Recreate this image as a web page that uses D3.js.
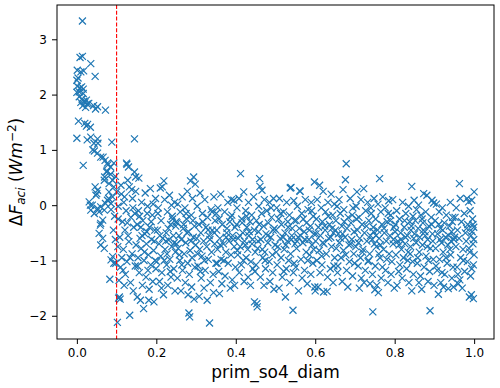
<!DOCTYPE html>
<html>
<head>
<meta charset="utf-8">
<script src="https://cdn.jsdelivr.net/npm/d3@7"></script>
<style>
	body { margin: 0; background: #fff; }
	text { font-family: "DejaVu Sans", sans-serif; fill: #000; }
</style>
</head>
<body>
<div id="chart"></div>
<script>
// prim_so4_diam vs dF_aci in strips of x
var xTicks = [0, 0.2, 0.4, 0.6, 0.8, 1.0];
var yTicks = [-2, -1, 0, 1, 2, 3];
var cutoff = 0.1;

var pts00 = [[0.014,3.33],[0.008,2.67],[0.014,2.69],[0.035,2.56],[0.001,2.44],[0.010,2.41],[0.017,2.43],[0.046,2.33],[0.003,2.30],[0.000,2.26],[0.001,2.15],[0.008,2.12],[0.016,2.10],[0.012,2.14],[0.000,2.04],[0.006,2.05],[0.016,2.02],[0.006,1.96],[0.013,1.92],[0.018,1.88],[0.024,1.90],[0.030,1.84],[0.015,1.80],[0.022,1.77],[0.026,1.83],[0.010,1.86],[0.020,1.85],[0.042,1.80],[0.052,1.78],[0.072,1.72],[0.047,1.74],[0.004,1.52],[0.020,1.48],[0.024,1.43],[0.034,1.41],[0.027,1.46],[0.000,1.21],[0.026,1.18],[0.035,1.23],[0.052,1.20],[0.043,1.12],[0.053,1.12],[0.088,1.14],[0.040,1.00],[0.044,0.98],[0.052,0.94],[0.060,0.87],[0.016,0.72],[0.066,0.87],[0.071,0.81],[0.077,0.76],[0.085,0.69],[0.078,0.73],[0.093,0.76],[0.075,0.60],[0.085,0.56],[0.070,0.51],[0.076,0.62],[0.069,0.45],[0.081,0.39],[0.090,0.45],[0.093,0.33],[0.100,0.24],[0.046,0.33],[0.050,0.21],[0.052,0.27],[0.048,0.18],[0.081,0.24],[0.090,0.15],[0.077,0.09],[0.086,0.03],[0.031,0.06],[0.039,0.00],[0.052,-0.06],[0.060,-0.03],[0.035,-0.09],[0.044,-0.15],[0.056,-0.12],[0.072,0.03],[0.069,-0.09],[0.086,-0.08],[0.034,0.00],[0.065,-0.27],[0.059,-0.36],[0.060,-0.33],[0.056,-0.51],[0.065,-0.60],[0.060,-0.72],[0.069,-0.78],[0.090,-0.93],[0.086,-0.99],[0.098,-1.05],[0.093,-1.05],[0.083,-1.34],[0.095,-0.20],[0.092,-0.45],[0.097,-0.62],[0.080,0.12],[0.097,0.52]];
var pts10 = [[0.106,-1.36],[0.107,-1.66],[0.109,-1.70],[0.105,-1.68],[0.102,-2.12],[0.133,-1.99],[0.110,-1.12],[0.125,0.76],[0.130,0.69],[0.126,0.74],[0.145,1.20],[0.148,0.51],[0.145,0.60],[0.128,0.45],[0.132,0.33],[0.112,0.20],[0.118,0.05],[0.124,-0.10],[0.140,0.12],[0.104,-0.02],[0.115,-0.30],[0.136,-0.22],[0.121,-0.45],[0.143,-0.40],[0.108,-0.58],[0.131,-0.66],[0.117,-0.80],[0.139,-0.88],[0.126,-1.02],[0.113,-0.95],[0.147,-1.10],[0.122,-1.25],[0.135,-1.40],[0.142,-1.55],[0.119,-1.45],[0.104,-0.25],[0.146,-0.15],[0.111,0.36],[0.138,0.28],[0.129,-0.55],[0.149,-0.72],[0.116,-1.18],[0.141,-0.05],[0.103,-0.75],[0.127,-0.32],[0.134,-0.95],[0.148,0.25],[0.120,0.15],
	[0.152,-1.66],[0.160,-1.72],[0.168,-1.87],[0.194,-1.75],[0.181,-1.72],[0.156,0.49],[0.172,0.22],[0.185,0.30],[0.163,0.05],[0.198,0.12],[0.155,-0.10],[0.178,-0.02],[0.190,-0.18],[0.166,-0.28],[0.152,-0.35],[0.183,-0.40],[0.196,-0.45],[0.171,-0.52],[0.159,-0.60],[0.188,-0.62],[0.175,-0.70],[0.162,-0.78],[0.193,-0.82],[0.180,-0.90],[0.154,-0.95],[0.169,-1.00],[0.186,-1.08],[0.199,-1.15],[0.157,-1.22],[0.174,-1.30],[0.191,-1.38],[0.165,-1.45],[0.182,-1.52],[0.161,-0.40],[0.177,-0.15],[0.195,-0.65],[0.170,-0.85],[0.187,-0.30],[0.153,-1.10],[0.164,-0.55],[0.197,-1.00],[0.179,-1.18],[0.158,-0.20],[0.192,0.02],[0.176,-0.48]];
var pts20 = [[0.215,0.33],[0.219,0.44],[0.210,0.31],[0.221,0.10],[0.233,0.18],[0.246,0.05],[0.205,-0.05],[0.228,-0.12],[0.240,-0.20],[0.212,-0.28],[0.236,-0.35],[0.249,-0.38],[0.203,-0.45],[0.225,-0.50],[0.243,-0.55],[0.216,-0.60],[0.231,-0.63],[0.207,-0.70],[0.239,-0.75],[0.222,-0.80],[0.248,-0.85],[0.211,-0.92],[0.234,-0.98],[0.201,-1.02],[0.226,-1.08],[0.244,-1.15],[0.214,-1.22],[0.237,-1.30],[0.208,-1.38],[0.229,-1.45],[0.247,-1.55],[0.218,-1.62],[0.241,-0.25],[0.204,-0.15],[0.230,-0.42],[0.245,-0.68],[0.220,-1.00],[0.235,-1.20],[0.209,-0.55],[0.227,-0.88],[0.250,-0.30],[0.213,-1.50],[0.238,0.00],[0.224,-0.65],
	[0.282,-1.95],[0.284,-2.02],[0.294,0.51],[0.286,0.44],[0.298,0.38],[0.278,0.25],[0.265,0.15],[0.291,0.12],[0.254,0.02],[0.272,-0.05],[0.260,-0.12],[0.288,-0.18],[0.276,-0.25],[0.252,-0.32],[0.296,-0.38],[0.268,-0.42],[0.281,-0.48],[0.257,-0.55],[0.293,-0.58],[0.263,-0.62],[0.274,-0.68],[0.299,-0.72],[0.255,-0.78],[0.285,-0.82],[0.270,-0.88],[0.290,-0.95],[0.259,-1.00],[0.279,-1.05],[0.297,-1.12],[0.266,-1.18],[0.283,-1.25],[0.253,-1.32],[0.273,-1.40],[0.289,-1.48],[0.262,-1.55],[0.280,-1.62],[0.295,-1.70],[0.269,-0.35],[0.287,-0.65],[0.258,-0.90],[0.277,-0.50],[0.292,-0.28],[0.264,-1.08],[0.251,-0.70],[0.275,-0.15]];
var pts30 = [[0.334,-2.13],[0.310,0.22],[0.322,0.10],[0.345,0.15],[0.303,-0.02],[0.338,-0.08],[0.316,-0.15],[0.329,-0.22],[0.348,-0.28],[0.307,-0.35],[0.325,-0.40],[0.341,-0.45],[0.312,-0.50],[0.333,-0.55],[0.302,-0.60],[0.319,-0.65],[0.347,-0.70],[0.327,-0.75],[0.309,-0.80],[0.339,-0.85],[0.315,-0.92],[0.331,-0.98],[0.350,-1.05],[0.305,-1.10],[0.323,-1.18],[0.343,-1.25],[0.313,-1.32],[0.336,-1.40],[0.320,-1.50],[0.344,-1.58],[0.308,-1.65],[0.328,-1.72],[0.317,-0.30],[0.335,-0.62],[0.304,-0.88],[0.346,-0.50],[0.321,-1.00],[0.340,-0.12],[0.311,-1.20],[0.330,-0.45],
	[0.395,0.09],[0.362,0.20],[0.380,0.05],[0.355,-0.05],[0.372,-0.12],[0.390,-0.18],[0.358,-0.25],[0.385,-0.30],[0.366,-0.35],[0.398,-0.40],[0.352,-0.45],[0.377,-0.50],[0.392,-0.55],[0.360,-0.60],[0.383,-0.65],[0.369,-0.70],[0.396,-0.75],[0.354,-0.80],[0.375,-0.85],[0.388,-0.90],[0.363,-0.98],[0.381,-1.05],[0.399,-1.12],[0.357,-1.20],[0.373,-1.28],[0.391,-1.35],[0.365,-1.42],[0.386,-1.50],[0.359,-1.60],[0.378,-0.42],[0.394,-0.62],[0.351,-0.15],[0.370,-1.00],[0.387,-0.22],[0.361,-0.72],[0.397,-1.45],[0.376,-0.58],[0.353,-1.05],[0.389,0.10]];
var pts40 = [[0.412,0.57],[0.420,0.24],[0.408,0.12],[0.432,0.05],[0.445,0.15],[0.403,-0.05],[0.425,-0.10],[0.440,-0.18],[0.415,-0.25],[0.436,-0.30],[0.402,-0.35],[0.428,-0.40],[0.447,-0.45],[0.418,-0.50],[0.433,-0.55],[0.406,-0.60],[0.422,-0.65],[0.441,-0.70],[0.411,-0.75],[0.430,-0.80],[0.449,-0.85],[0.405,-0.90],[0.426,-0.95],[0.438,-1.02],[0.414,-1.08],[0.443,-1.15],[0.409,-1.22],[0.431,-1.30],[0.421,-1.38],[0.447,-1.75],[0.437,-1.45],[0.416,-0.32],[0.442,-0.62],[0.404,-0.82],[0.427,-0.20],[0.419,-1.00],[0.434,-0.48],[0.448,-1.20],[0.410,-0.55],[0.424,-0.72],
	[0.460,0.48],[0.461,0.34],[0.466,0.27],[0.453,-1.78],[0.454,-1.84],[0.472,0.10],[0.485,0.05],[0.458,-0.02],[0.495,0.12],[0.478,-0.10],[0.465,-0.15],[0.490,-0.22],[0.452,-0.28],[0.482,-0.32],[0.470,-0.38],[0.497,-0.42],[0.457,-0.48],[0.476,-0.52],[0.488,-0.58],[0.463,-0.62],[0.481,-0.68],[0.499,-0.72],[0.455,-0.78],[0.473,-0.85],[0.492,-0.90],[0.468,-0.95],[0.484,-1.02],[0.451,-1.08],[0.475,-1.15],[0.493,-1.22],[0.462,-1.30],[0.486,-1.38],[0.471,-1.45],[0.496,-1.52],[0.459,-0.35],[0.480,-0.55],[0.467,-0.80],[0.489,-0.05],[0.474,-1.00],[0.456,-0.65],[0.494,-0.45]];
var pts50 = [[0.537,0.31],[0.539,0.32],[0.525,-1.66],[0.544,-1.90],[0.510,0.12],[0.528,0.05],[0.546,0.08],[0.503,-0.05],[0.520,-0.12],[0.535,-0.18],[0.508,-0.25],[0.548,-0.28],[0.515,-0.35],[0.532,-0.40],[0.501,-0.45],[0.524,-0.50],[0.541,-0.55],[0.512,-0.60],[0.530,-0.65],[0.549,-0.70],[0.506,-0.75],[0.522,-0.80],[0.538,-0.88],[0.514,-0.95],[0.533,-1.00],[0.504,-1.08],[0.527,-1.15],[0.545,-1.22],[0.517,-1.30],[0.536,-1.40],[0.509,-1.50],[0.542,-0.42],[0.519,-0.58],[0.531,-0.30],[0.502,-0.85],[0.547,-1.05],[0.526,-0.72],[0.513,-0.15],[0.540,-0.62],[0.521,-1.20],
	[0.562,0.25],[0.561,0.26],[0.598,0.42],[0.600,-1.55],[0.575,0.10],[0.590,0.05],[0.555,-0.02],[0.582,-0.08],[0.566,-0.15],[0.595,-0.20],[0.552,-0.28],[0.578,-0.32],[0.588,-0.38],[0.560,-0.42],[0.572,-0.48],[0.597,-0.52],[0.557,-0.58],[0.584,-0.62],[0.569,-0.68],[0.592,-0.72],[0.553,-0.78],[0.577,-0.85],[0.586,-0.90],[0.564,-0.98],[0.594,-1.05],[0.551,-1.12],[0.573,-1.18],[0.589,-1.25],[0.567,-1.32],[0.580,-1.42],[0.599,-1.48],[0.558,-1.55],[0.585,-0.45],[0.570,-0.25],[0.596,-0.80],[0.563,-0.55],[0.581,-1.00],[0.554,-0.65],[0.591,-0.10],[0.574,-0.62]];
var pts60 = [[0.611,0.36],[0.620,0.25],[0.621,-1.57],[0.630,-1.56],[0.640,0.20],[0.605,0.10],[0.632,0.05],[0.648,0.02],[0.615,-0.05],[0.626,-0.12],[0.644,-0.18],[0.603,-0.25],[0.618,-0.30],[0.636,-0.35],[0.608,-0.40],[0.625,-0.45],[0.646,-0.50],[0.613,-0.55],[0.634,-0.60],[0.601,-0.65],[0.622,-0.70],[0.641,-0.75],[0.610,-0.82],[0.628,-0.88],[0.649,-0.95],[0.604,-1.00],[0.617,-1.08],[0.638,-1.15],[0.612,-1.22],[0.631,-1.30],[0.645,-1.40],[0.607,-1.48],[0.624,-0.38],[0.639,-0.58],[0.616,-0.92],[0.633,-0.20],[0.602,-0.52],[0.647,-1.10],[0.619,-0.68],[0.642,-0.42],
	[0.678,0.75],[0.676,0.46],[0.670,0.28],[0.660,0.10],[0.688,0.12],[0.655,-0.02],[0.672,-0.08],[0.695,-0.05],[0.663,-0.15],[0.683,-0.22],[0.652,-0.28],[0.690,-0.32],[0.667,-0.38],[0.680,-0.42],[0.698,-0.48],[0.658,-0.52],[0.675,-0.58],[0.692,-0.62],[0.661,-0.68],[0.685,-0.72],[0.653,-0.78],[0.671,-0.82],[0.697,-0.88],[0.665,-0.95],[0.686,-1.02],[0.657,-1.10],[0.679,-1.18],[0.694,-1.28],[0.668,-1.38],[0.682,-1.48],[0.651,-0.45],[0.673,-0.30],[0.689,-0.70],[0.664,-0.60],[0.699,-1.05],[0.677,-0.90],[0.656,-1.22],[0.693,-0.18],[0.669,-0.52]];
var pts70 = [[0.722,0.30],[0.705,0.24],[0.745,-1.93],[0.750,-1.53],[0.715,0.10],[0.732,0.05],[0.748,0.12],[0.703,-0.02],[0.727,-0.10],[0.741,-0.15],[0.710,-0.22],[0.735,-0.28],[0.718,-0.35],[0.746,-0.40],[0.706,-0.45],[0.724,-0.50],[0.739,-0.55],[0.712,-0.60],[0.730,-0.65],[0.749,-0.70],[0.702,-0.75],[0.720,-0.80],[0.737,-0.88],[0.714,-0.95],[0.733,-1.02],[0.708,-1.10],[0.726,-1.18],[0.744,-1.25],[0.716,-1.32],[0.738,-1.42],[0.711,-1.50],[0.729,-0.38],[0.743,-0.62],[0.719,-0.85],[0.704,-0.25],[0.734,-1.00],[0.747,-0.48],[0.723,-1.40],[0.740,-0.05],[0.709,-0.68],
	[0.762,0.48],[0.755,-1.45],[0.770,0.15],[0.785,0.08],[0.758,0.02],[0.795,0.10],[0.776,-0.05],[0.765,-0.12],[0.790,-0.18],[0.752,-0.25],[0.781,-0.30],[0.768,-0.35],[0.798,-0.40],[0.757,-0.45],[0.774,-0.50],[0.788,-0.55],[0.761,-0.60],[0.779,-0.65],[0.796,-0.70],[0.754,-0.75],[0.772,-0.80],[0.786,-0.88],[0.763,-0.95],[0.793,-1.02],[0.751,-1.10],[0.777,-1.18],[0.791,-1.25],[0.766,-1.32],[0.783,-1.40],[0.799,-1.50],[0.759,-1.58],[0.773,-0.42],[0.789,-0.28],[0.764,-0.72],[0.780,-0.98],[0.753,-0.55],[0.797,-0.62],[0.769,-1.12],[0.784,-0.15],[0.760,-0.88]];
var pts80 = [[0.843,0.34],[0.849,0.09],[0.843,-1.55],[0.810,-1.20],[0.820,0.05],[0.835,-0.02],[0.805,-0.10],[0.828,-0.15],[0.846,-0.20],[0.812,-0.25],[0.838,-0.30],[0.802,-0.35],[0.824,-0.40],[0.841,-0.45],[0.815,-0.50],[0.832,-0.55],[0.848,-0.60],[0.808,-0.65],[0.826,-0.70],[0.840,-0.75],[0.817,-0.80],[0.834,-0.85],[0.803,-0.90],[0.822,-0.95],[0.845,-1.02],[0.813,-1.08],[0.830,-1.15],[0.847,-1.25],[0.819,-1.32],[0.836,-1.40],[0.806,-1.45],[0.827,-0.58],[0.842,-0.38],[0.811,-0.72],[0.833,-1.00],[0.801,-0.48],[0.825,-0.28],[0.839,-0.88],[0.816,-0.62],[0.850,-0.52],
	[0.873,0.21],[0.881,0.18],[0.894,0.09],[0.898,0.04],[0.889,-1.91],[0.860,0.00],[0.855,-0.08],[0.878,-0.12],[0.866,-0.18],[0.892,-0.22],[0.852,-0.28],[0.871,-0.32],[0.886,-0.38],[0.859,-0.42],[0.876,-0.48],[0.895,-0.52],[0.863,-0.58],[0.883,-0.62],[0.854,-0.68],[0.870,-0.72],[0.890,-0.78],[0.862,-0.85],[0.879,-0.92],[0.897,-0.98],[0.857,-1.05],[0.874,-1.12],[0.888,-1.20],[0.865,-1.28],[0.884,-1.38],[0.899,-1.45],[0.868,-1.52],[0.877,-0.55],[0.893,-0.35],[0.858,-0.95],[0.882,-0.75],[0.869,-0.25],[0.896,-0.65],[0.861,-1.40],[0.885,-1.00],[0.872,-0.45]];
var pts90 = [[0.910,-1.61],[0.923,-1.48],[0.935,-1.51],[0.948,-1.48],[0.905,0.02],[0.920,-0.05],[0.940,0.05],[0.912,-0.12],[0.930,-0.18],[0.946,-0.22],[0.902,-0.28],[0.925,-0.32],[0.938,-0.38],[0.915,-0.42],[0.943,-0.48],[0.908,-0.52],[0.928,-0.58],[0.949,-0.62],[0.918,-0.68],[0.934,-0.72],[0.903,-0.78],[0.922,-0.85],[0.941,-0.90],[0.913,-0.98],[0.932,-1.05],[0.947,-1.12],[0.907,-1.18],[0.926,-1.25],[0.944,-1.32],[0.916,-1.40],[0.936,-0.55],[0.911,-0.35],[0.929,-0.95],[0.942,-0.65],[0.904,-1.10],[0.921,-0.45],[0.939,-0.80],[0.919,-1.22],[0.945,-0.30],[0.914,-0.62],
	[0.963,0.39],[0.965,0.12],[0.982,0.12],[0.994,0.09],[1.000,0.24],[0.986,0.06],[0.990,-0.10],[0.960,-1.42],[0.970,-1.50],[0.998,-1.69],[0.988,-1.66],[0.993,-1.62],[0.955,-0.05],[0.975,-0.15],[0.952,-0.22],[0.996,-0.25],[0.968,-0.30],[0.984,-0.35],[0.999,-0.40],[0.958,-0.45],[0.978,-0.50],[0.992,-0.55],[0.962,-0.60],[0.980,-0.65],[0.997,-0.70],[0.954,-0.75],[0.972,-0.80],[0.989,-0.85],[1.000,-0.90],[0.966,-0.95],[0.983,-1.02],[0.998,-1.08],[0.957,-1.12],[0.976,-1.20],[0.991,-1.28],[0.964,-1.35],[0.995,-0.48],[0.999,-0.62],[0.997,-0.35],[0.981,-0.42],[0.951,-0.58],[0.973,-1.00],[0.987,-0.78],[0.959,-1.25],[0.994,-1.15]];

var points = [].concat(pts00, pts10, pts20, pts30, pts40, pts50, pts60, pts70, pts80, pts90);

var width = 500, height = 388;
var margin = {top: 5, right: 6, bottom: 49, left: 57};

var svg = d3.select("#chart").append("svg")
	.attr("width", width)
	.attr("height", height)

var x = d3.scaleLinear()
	.domain([-0.05, 1.05])
	.range([margin.left, width - margin.right])

var y = d3.scaleLinear()
	.domain([-2.42, 3.62])
	.range([height - margin.bottom, margin.top])

var blue = "#1f77b4";
var m = 3.5;

// x markers
svg.append("g").selectAll("path")
	.data(points)
	.enter()
		.append("path")
		.attr("transform", function(d) { return "translate(" + x(d[0]) + "," + y(d[1]) + ")"; })
		.attr("d", "M" + (-m) + "," + (-m) + "L" + m + "," + m + "M" + (-m) + "," + m + "L" + m + "," + (-m))
		.attr("stroke", blue)
		.attr("stroke-width", 1.2)
		.attr("fill", "none")

// dashed cutoff line
svg.append("line")
	.attr("x1", x(cutoff))
	.attr("x2", x(cutoff))
	.attr("y1", margin.top)
	.attr("y2", height - margin.bottom)
	.attr("stroke", "#ff0000")
	.attr("stroke-width", 1.1)
	.attr("stroke-dasharray", "4,1.8")

var fmt = function(v) { return d3.format(".1f")(v); };

var xAxis = svg.append("g")
	.attr("transform", "translate(0," + (height - margin.bottom) + ")")
	.call(d3.axisBottom(x).tickValues(xTicks).tickFormat(fmt).tickSize(5).tickPadding(4))

var yAxis = svg.append("g")
	.attr("transform", "translate(" + margin.left + ",0)")
	.call(d3.axisLeft(y).tickValues(yTicks).tickFormat(function(d) { return d < 0 ? "\u2212" + Math.abs(d) : d; }).tickSize(5).tickPadding(5))

svg.selectAll(".tick text")
	.attr("font-size", "12px")
	.attr("font-family", "DejaVu Sans")
	.attr("fill", "#000")
svg.selectAll(".tick line").attr("stroke", "#000").attr("stroke-width", 1)
svg.selectAll(".domain").remove()

// frame
svg.append("rect")
	.attr("x", margin.left)
	.attr("y", margin.top)
	.attr("width", width - margin.left - margin.right)
	.attr("height", height - margin.top - margin.bottom)
	.attr("fill", "none")
	.attr("stroke", "#000")
	.attr("stroke-width", 1)

svg.append("text")
	.attr("x", (margin.left + width - margin.right) / 2)
	.attr("y", 378)
	.attr("text-anchor", "middle")
	.attr("font-size", "17px")
	.text("prim_so4_diam")

var ylab = svg.append("text")
	.attr("transform", "translate(22," + ((margin.top + height - margin.bottom) / 2) + ") rotate(-90)")
	.attr("text-anchor", "middle")
	.attr("font-size", "17px")
ylab.append("tspan").text("\u0394")
ylab.append("tspan").attr("font-style", "italic").text("F")
ylab.append("tspan").attr("font-style", "italic").attr("font-size", "12px").attr("dy", 3).text("aci")
ylab.append("tspan").attr("dy", -3).text(" (")
ylab.append("tspan").attr("font-style", "italic").text("Wm")
ylab.append("tspan").attr("font-size", "12px").attr("dy", -6).text("\u2212")
ylab.append("tspan").attr("font-size", "12px").text("2")
ylab.append("tspan").attr("dy", 6).text(")")
</script>
</body>
</html>
